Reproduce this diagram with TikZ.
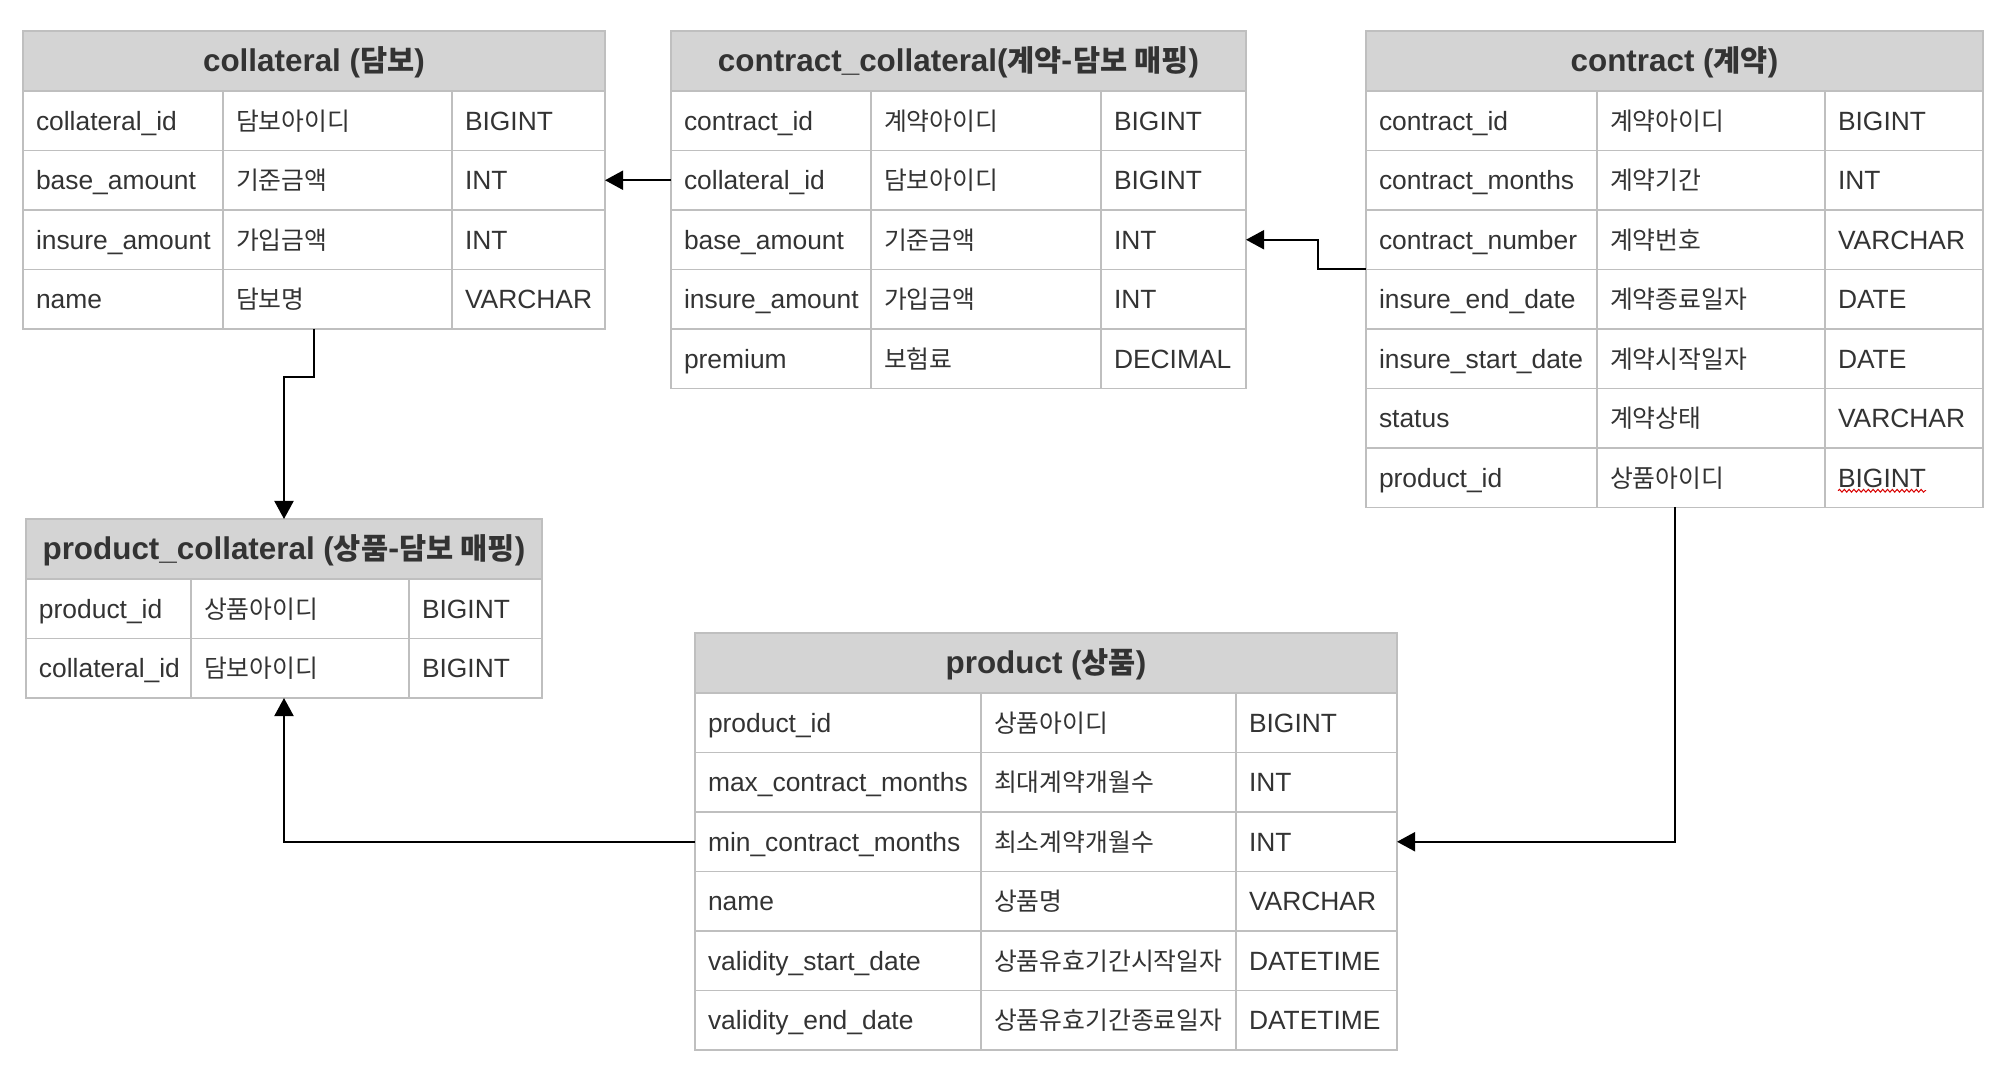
\documentclass[tikz,border=0pt]{standalone}
\usepackage{fontspec}
\setmainfont{Liberation Sans}
\newfontfamily\kofont{Noto Sans CJK KR}[Scale=0.94]
\newcommand{\ko}[1]{{\kofont #1}}
\usetikzlibrary{arrows.meta,calc,decorations.pathmorphing}
\definecolor{gridc}{HTML}{BFBFBF}
\definecolor{headc}{HTML}{D4D4D4}
\definecolor{txtc}{HTML}{333333}
\hyphenpenalty=10000
\exhyphenpenalty=10000
% one table: name, x, y, column widths (px), title, rows
\newcommand{\dbtable}[8]{%
  \pgfmathsetmacro\tw{(#4+#5+#6)/2}
  \node[hdr, minimum width=\tw pt] (#1) at (#2,#3) {#7};
  \foreach [count=\rw] \fa/\fb/\fc in {#8}{
    \pgfmathsetmacro\ry{#3+60+(\rw-1)*59.5}
    \pgfmathsetmacro\wa{(#4-26)/2}
    \pgfmathsetmacro\wb{(#5-26)/2}
    \pgfmathsetmacro\wc{(#6-26)/2}
    \node[cell, text width=\wa pt] (#1-\rw-1) at (#2,\ry) {\fa};
    \node[cell, text width=\wb pt] (#1-\rw-2) at (#1-\rw-1.north east) {\ko{\fb}};
    \node[cell, text width=\wc pt] (#1-\rw-3) at (#1-\rw-2.north east) {\fc};
  }%
}

\begin{document}
\begin{tikzpicture}[x=0.5pt, y=-0.5pt,
  hdr/.style={draw=gridc, line width=0.8pt, fill=headc, anchor=north west,
    minimum height=30pt, inner sep=0pt, outer sep=0pt, text=txtc,
    text height=12.5pt, text depth=2.4pt, font=\bfseries\fontsize{15.7}{18}\selectfont},
  cell/.style={draw=gridc, line width=0.8pt, anchor=north west, minimum height=29.75pt,
    inner xsep=6.5pt, inner ysep=0pt, outer sep=0pt, align=left, text=txtc,
    text height=11pt, text depth=1.5pt, font=\fontsize{13.2}{15}\selectfont},
  fk/.style={-{Triangle[length=9pt,width=9.5pt]}, line width=1pt, draw=black}]
\useasboundingbox (0,0) rectangle (2000,1068);

\dbtable{coll}{23}{31}{200}{229}{153}{collateral (\ko{담보})}{%
  collateral\_id/담보아이디/BIGINT, base\_amount/기준금액/INT,
  insure\_amount/가입금액/INT, name/담보명/VARCHAR}
\dbtable{cc}{671}{31}{200}{230}{145}{contract\_collateral(\ko{계약-담보 매핑})}{%
  contract\_id/계약아이디/BIGINT, collateral\_id/담보아이디/BIGINT,
  base\_amount/기준금액/INT, insure\_amount/가입금액/INT, premium/보험료/DECIMAL}
\dbtable{contr}{1366}{31}{231}{228}{158}{contract (\ko{계약})}{%
  contract\_id/계약아이디/BIGINT, contract\_months/계약기간/INT,
  contract\_number/계약번호/VARCHAR, insure\_end\_date/계약종료일자/DATE,
  insure\_start\_date/계약시작일자/DATE, status/계약상태/VARCHAR,
  product\_id/상품아이디/BIGINT}
\dbtable{pc}{26}{519}{165}{218}{133}{product\_collateral (\ko{상품-담보 매핑})}{%
  product\_id/상품아이디/BIGINT, collateral\_id/담보아이디/BIGINT}
\dbtable{prod}{695}{633}{286}{255}{161}{product (\ko{상품})}{%
  product\_id/상품아이디/BIGINT, max\_contract\_months/최대계약개월수/INT,
  min\_contract\_months/최소계약개월수/INT, name/상품명/VARCHAR,
  validity\_start\_date/상품유효기간시작일자/DATETIME,
  validity\_end\_date/상품유효기간종료일자/DATETIME}

% references
\draw[fk] (cc-2-1.west) -- (coll-2-3.east);
\draw[fk] (contr-4-1.north west) -- ++(-48,0) |- (cc-3-3.east);
\draw[fk] (coll.center |- coll-4-1.south) -- ++(0,48) -| (pc.north);
\draw[fk] (prod-3-1.west) -| (pc.center |- pc-2-1.south);
\draw[fk] (contr.center |- contr-7-1.south) |- (prod-3-3.east);

% spell-check squiggle
\draw[red!85!black, line width=0.5pt, decorate,
  decoration={snake, amplitude=0.7pt, segment length=2.4pt}]
  ($(contr-7-3.west)+(13,13)$) -- ++(88,0);
\end{tikzpicture}
\end{document}
